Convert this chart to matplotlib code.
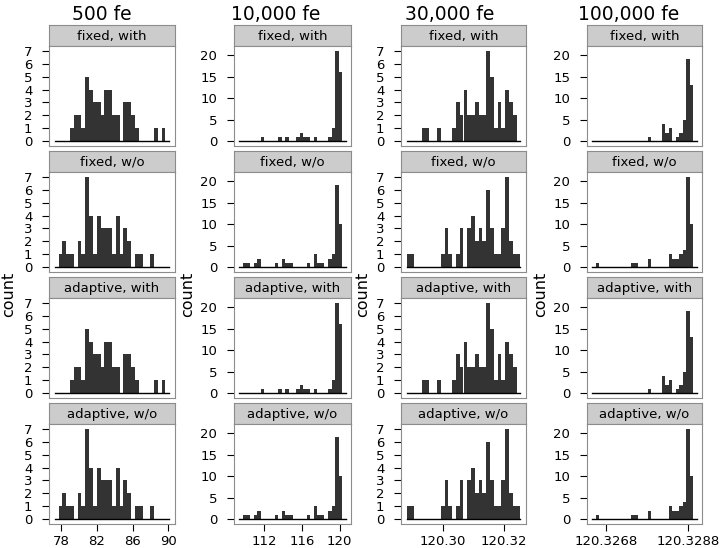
import matplotlib
matplotlib.use('Agg')
import matplotlib.pyplot as plt
import numpy as np

plt.rcParams['font.family'] = ['DejaVu Sans']

col_titles = ['500 fe', '10,000 fe', '30,000 fe', '100,000 fe']
row_labels = ['fixed, with', 'fixed, w/o', 'adaptive, with', 'adaptive, w/o']

# bin range per column (30 equal bins)
bin_lo = [77.25, 109.35, 120.2880, 120.32647]
bin_hi = [90.11, 120.64, 120.3254, 120.32902]
n_bins = 30

x_ticks = [[78, 82, 86, 90], [112, 116, 120], [120.30, 120.32], [120.3268, 120.3288]]
x_ticklabels = [['78', '82', '86', '90'], ['112', '116', '120'],
                ['120.30', '120.32'], ['120.3268', '120.3288']]
y_ticks = [[0, 1, 2, 3, 4, 5, 6, 7], [0, 5, 10, 15, 20],
           [0, 1, 2, 3, 4, 5, 6, 7], [0, 5, 10, 15, 20]]
y_max = [7, 21, 7, 21]

# counts: column 1 (500 fe)
c1_fixed_with = [0, 0, 0, 0, 1, 2, 2, 1, 5, 4, 3, 3, 2, 4, 4, 2, 2, 0, 3, 3, 2, 1, 0, 0, 0, 0, 1, 0, 1, 0]
c1_fixed_wo = [0, 1, 2, 1, 1, 0, 2, 1, 7, 4, 1, 4, 3, 3, 3, 1, 4, 1, 3, 2, 0, 1, 1, 0, 0, 1, 0, 0, 0, 0]
c1_adapt_with = [0, 0, 0, 0, 1, 2, 2, 1, 5, 4, 3, 3, 2, 4, 4, 2, 2, 0, 3, 3, 2, 1, 0, 0, 0, 0, 1, 0, 1, 0]
c1_adapt_wo = [0, 1, 2, 1, 1, 0, 2, 1, 7, 4, 1, 4, 3, 3, 3, 1, 4, 1, 3, 2, 0, 1, 1, 0, 0, 1, 0, 0, 0, 0]
# column 2 (10,000 fe)
c2_fixed_with = [0, 0, 0, 0, 0, 0, 1, 0, 0, 0, 0, 1, 0, 1, 0, 0, 1, 2, 1, 1, 0, 1, 0, 0, 0, 1, 3, 21, 16, 0]
c2_fixed_wo = [0, 1, 1, 0, 1, 2, 0, 0, 0, 0, 1, 0, 2, 1, 1, 0, 0, 0, 0, 1, 0, 3, 1, 1, 0, 2, 3, 19, 10, 0]
c2_adapt_with = [0, 0, 0, 0, 0, 0, 1, 0, 0, 0, 0, 1, 0, 1, 0, 0, 1, 2, 1, 1, 0, 1, 0, 0, 0, 1, 3, 21, 16, 0]
c2_adapt_wo = [0, 1, 1, 0, 1, 2, 0, 0, 0, 0, 1, 0, 2, 1, 1, 0, 0, 0, 0, 1, 0, 3, 1, 1, 0, 2, 3, 19, 10, 0]
# column 3 (30,000 fe)
c3_fixed_with = [0, 0, 0, 0, 1, 1, 0, 0, 1, 0, 0, 0, 1, 3, 2, 4, 2, 2, 3, 2, 2, 7, 5, 1, 3, 1, 4, 3, 2, 0]
c3_fixed_wo = [1, 1, 0, 0, 0, 0, 0, 0, 0, 1, 3, 1, 0, 1, 3, 0, 3, 4, 2, 3, 2, 6, 3, 1, 1, 3, 7, 2, 1, 1]
c3_adapt_with = [0, 0, 0, 0, 1, 1, 0, 0, 1, 0, 0, 0, 1, 3, 2, 4, 2, 2, 3, 2, 2, 7, 5, 1, 3, 1, 4, 3, 2, 0]
c3_adapt_wo = [1, 1, 0, 0, 0, 0, 0, 0, 0, 1, 3, 1, 0, 1, 3, 0, 3, 4, 2, 3, 2, 6, 3, 1, 1, 3, 7, 2, 1, 1]
# column 4 (100,000 fe)
c4_fixed_with = [0, 0, 0, 0, 0, 0, 0, 0, 0, 0, 0, 0, 0, 0, 0, 0, 1, 0, 0, 0, 4, 2, 3, 0, 1, 2, 5, 19, 13, 0]
c4_fixed_wo = [0, 1, 0, 0, 0, 0, 0, 0, 0, 0, 0, 1, 1, 0, 0, 0, 2, 0, 0, 0, 0, 0, 3, 2, 2, 3, 4, 21, 10, 0]
c4_adapt_with = [0, 0, 0, 0, 0, 0, 0, 0, 0, 0, 0, 0, 0, 0, 0, 0, 1, 0, 0, 0, 4, 2, 3, 0, 1, 2, 5, 19, 13, 0]
c4_adapt_wo = [0, 1, 0, 0, 0, 0, 0, 0, 0, 0, 0, 1, 1, 0, 0, 0, 2, 0, 0, 0, 0, 0, 3, 2, 2, 3, 4, 21, 10, 0]

counts = [
    [c1_fixed_with, c1_fixed_wo, c1_adapt_with, c1_adapt_wo],
    [c2_fixed_with, c2_fixed_wo, c2_adapt_with, c2_adapt_wo],
    [c3_fixed_with, c3_fixed_wo, c3_adapt_with, c3_adapt_wo],
    [c4_fixed_with, c4_fixed_wo, c4_adapt_with, c4_adapt_wo],
]

W, H = 722, 548
fig = plt.figure(figsize=(W / 100, H / 100), dpi=100)

col_L = [49, 234, 401, 587]
col_R = [175, 351, 526, 702]
row_T = [25, 151, 277, 403]
strip_h = 21
panel_h = 100
title_x = [102, 276, 450, 629]
count_x = [9, 188, 363, 541]
frame_col = '#8c8c8c'
bar_col = '#333333'
strip_col = '#cccccc'
tick_fs = 9.5


def rect(x0, y0, w, h):
    return [x0 / W, 1 - (y0 + h) / H, w / W, h / H]


for c in range(4):
    lo, hi = bin_lo[c], bin_hi[c]
    edges = np.linspace(lo, hi, n_bins + 1)
    widths = np.diff(edges)
    rng = hi - lo
    xlim = (lo - 0.05 * rng, hi + 0.05 * rng)
    ylim = (-0.05 * y_max[c], 1.05 * y_max[c])
    for r in range(4):
        x0 = col_L[c]
        w = col_R[c] - col_L[c]
        # strip
        sax = fig.add_axes(rect(x0, row_T[r], w, strip_h))
        sax.set_facecolor(strip_col)
        sax.set_xticks([])
        sax.set_yticks([])
        for s in sax.spines.values():
            s.set_color(frame_col)
        sax.text(0.5, 0.47, row_labels[r], ha='center', va='center',
                 fontsize=9.5, transform=sax.transAxes)
        # panel
        ax = fig.add_axes(rect(x0, row_T[r] + strip_h, w, panel_h))
        ax.bar(edges[:-1], counts[c][r], width=widths, align='edge',
               color=bar_col, linewidth=0)
        ax.plot([edges[0], edges[-1]], [0, 0], color='black', lw=1)
        ax.set_xlim(*xlim)
        ax.set_ylim(*ylim)
        for s in ax.spines.values():
            s.set_color(frame_col)
        ax.set_yticks(y_ticks[c])
        ax.set_yticklabels([str(v) for v in y_ticks[c]])
        ax.tick_params(axis='y', length=5, pad=7, labelsize=tick_fs, color='black')
        if r == 3:
            ax.set_xticks(x_ticks[c])
            ax.set_xticklabels(x_ticklabels[c])
            ax.tick_params(axis='x', length=5, pad=3, labelsize=tick_fs, color='black')
        else:
            ax.set_xticks([])
    fig.text(title_x[c] / W, 1 - 15 / H, col_titles[c], ha='center', va='center',
             fontsize=13.5)
    fig.text(count_x[c] / W, 1 - 294 / H, 'count', rotation=90, ha='center',
             va='center', fontsize=11.5)

fig.savefig('out.png', dpi=100)
